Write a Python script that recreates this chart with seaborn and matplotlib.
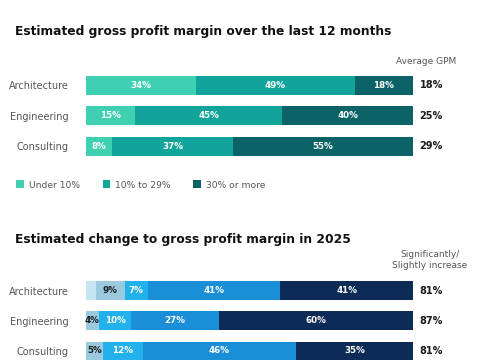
import numpy as np
import pandas as pd
import matplotlib
matplotlib.use("Agg")
import matplotlib.pyplot as plt
import seaborn as sns
from matplotlib.patches import Patch

sns.set_theme(style="white")
plt.rcParams['font.family'] = ['DejaVu Sans']

# ---------------- data ----------------
categories = ["Architecture", "Engineering", "Consulting"]

gpm_series = ["Under 10%", "10% to 29%", "30% or more"]
gpm_under10 = [34, 15, 8]
gpm_10to29 = [49, 45, 37]
gpm_30plus = [18, 40, 55]
avg_gpm = ["18%", "25%", "29%"]

chg_series = ["Significantly decrease", "Slightly decrease", "Stay the same",
              "Slightly increase", "Significantly increase"]
chg_sig_dec = [3, 0, 0]
chg_sli_dec = [9, 4, 5]
chg_same = [7, 10, 12]
chg_sli_inc = [41, 27, 46]
chg_sig_inc = [41, 60, 35]
chg_increase = ["81%", "87%", "81%"]

gpm_colors = ["#3fcfb1", "#12a39b", "#0b6367"]
chg_colors = ["#c6e5f3", "#9bcade", "#22b1ea", "#1a8ed7", "#0c2b57"]
chg_text_colors = ["#1a1a1a", "#1a1a1a", "white", "white", "white"]

W, H = 485, 360
fig = plt.figure(figsize=(W / 100, H / 100), dpi=100)


def px_axes(x0, y0, x1, y1):
    return fig.add_axes([x0 / W, 1 - y1 / H, (x1 - x0) / W, (y1 - y0) / H])


def stacked(ax, series_vals, colors, text_colors):
    arr = np.array(series_vals, dtype=float).T  # rows x series
    totals = arr.sum(axis=1, keepdims=True)
    shares = arr / totals * 100
    cum = np.cumsum(shares, axis=1)
    n = arr.shape[1]
    # draw from the largest cumulative down so each layer shows
    for j in range(n - 1, -1, -1):
        df = pd.DataFrame({"cat": categories, "val": cum[:, j]})
        sns.barplot(data=df, y="cat", x="val", color=colors[j], ax=ax,
                    orient="h", width=0.62, saturation=1, edgecolor="none",
                    linewidth=0, order=categories)
    for i in range(arr.shape[0]):
        left = 0
        for j in range(n):
            w = shares[i, j]
            if arr[i, j] >= 4:
                ax.text(left + w / 2, i, f"{int(arr[i, j])}%", ha="center",
                        va="center", color=text_colors[j], fontsize=6.3,
                        fontweight="bold")
            left += w
    ax.set_xlim(0, 100)
    ax.set_ylim(2.5, -0.5)
    ax.set_xlabel("")
    ax.set_ylabel("")
    ax.set_xticks([])
    ax.tick_params(axis="y", length=0, pad=12.5, labelsize=7, labelcolor="#555555")
    for s in ax.spines.values():
        s.set_visible(False)


# ---------------- top chart ----------------
ax1 = px_axes(86, 70, 413, 161.5)
stacked(ax1, [gpm_under10, gpm_10to29, gpm_30plus], gpm_colors,
        ["white", "white", "white"])
for i, lab in enumerate(avg_gpm):
    ax1.text(1.02, i, lab, transform=ax1.get_yaxis_transform(), ha="left",
             va="center", fontsize=7, fontweight="bold", color="#1a1a1a")

fig.text(15 / W, 1 - 32 / H, "Estimated gross profit margin over the last 12 months",
         ha="left", va="center", fontsize=8.8, fontweight="bold", color="#111111")
fig.text(456 / W, 1 - 61 / H, "Average GPM", ha="right", va="center",
         fontsize=6.5, color="#555555")

handles = [Patch(facecolor=c, edgecolor="none", label=l)
           for c, l in zip(gpm_colors, gpm_series)]
fig.legend(handles=handles, loc="center left",
           bbox_to_anchor=(8 / W, 1 - 185 / H), ncol=3, frameon=False,
           fontsize=6.6, handlelength=0.8, handleheight=0.95,
           handletextpad=0.55, columnspacing=2.5, labelcolor="#555555")

# ---------------- bottom chart ----------------
ax2 = px_axes(86, 275.5, 413, 366)
stacked(ax2, [chg_sig_dec, chg_sli_dec, chg_same, chg_sli_inc, chg_sig_inc],
        chg_colors, chg_text_colors)
for i, lab in enumerate(chg_increase):
    ax2.text(1.02, i, lab, transform=ax2.get_yaxis_transform(), ha="left",
             va="center", fontsize=7, fontweight="bold", color="#1a1a1a")

fig.text(15 / W, 1 - 239 / H, "Estimated change to gross profit margin in 2025",
         ha="left", va="center", fontsize=8.8, fontweight="bold", color="#111111")
fig.text(430 / W, 1 - 260 / H, "Significantly/\nSlightly increase", ha="center",
         va="center", fontsize=6.5, color="#555555", linespacing=1.3)

fig.savefig("out.png", dpi=100, facecolor="white")
